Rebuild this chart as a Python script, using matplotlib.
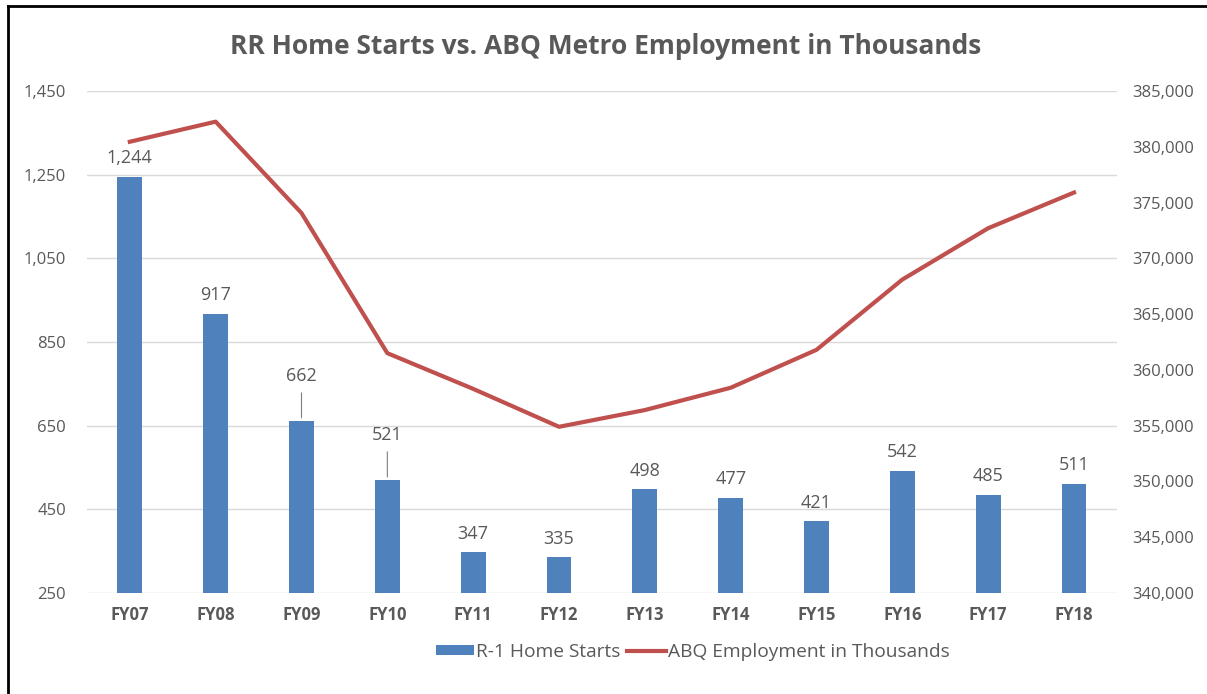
import matplotlib
matplotlib.use("Agg")
import matplotlib.pyplot as plt
from matplotlib.lines import Line2D
from matplotlib.ticker import FuncFormatter

years = ["FY07", "FY08", "FY09", "FY10", "FY11", "FY12",
         "FY13", "FY14", "FY15", "FY16", "FY17", "FY18"]
home_starts = [1244, 917, 662, 521, 347, 335, 498, 477, 421, 542, 485, 511]
employment = [380450, 382250, 374060, 361500, 358300, 354900,
              356400, 358400, 361800, 368100, 372700, 375900]

# labels that sit higher with a leader line down to the bar
lifted = {"FY09": 19, "FY10": 19}

bar_color = "#4F81BD"
line_color = "#C0504D"
text_color = "#595959"

plt.rcParams["font.family"] = ["Open Sans", "DejaVu Sans"]

fig = plt.figure(figsize=(12.07, 6.94), dpi=100)
ax = fig.add_axes([0.072, 0.1455, 0.8534, 0.7234])
ax2 = ax.twinx()

x = list(range(len(years)))
bars = ax.bar(x, home_starts, width=0.29, color=bar_color, zorder=2,
              label="R-1 Home Starts")
ax.set_ylim(250, 1450)
ax.set_yticks(range(250, 1451, 200))
ax.yaxis.set_major_formatter(FuncFormatter(lambda v, p: f"{int(v):,}"))
ax.set_xlim(-0.5, len(years) - 0.5)
ax.set_xticks(x)
ax.set_xticklabels(years, fontweight="bold")
ax.grid(axis="y", color="#D9D9D9", linewidth=1, zorder=0)
ax.set_axisbelow(True)

for i, (name, v) in enumerate(zip(years, home_starts)):
    lift = lifted.get(name, 0)
    ax.annotate(f"{v:,}", xy=(i, v), xytext=(0, 7 + lift),
                textcoords="offset points", ha="center", va="bottom",
                fontsize=13, color=text_color)
    if lift:
        ax.annotate("", xy=(i, v), xytext=(0, 3 + lift),
                    textcoords="offset points",
                    arrowprops=dict(arrowstyle="-", color="#7F7F7F", lw=0.8))

ax2.plot(x, employment, color=line_color, linewidth=3, zorder=3,
         label="ABQ Employment in Thousands")
ax2.set_ylim(340000, 385000)
ax2.set_yticks(range(340000, 385001, 5000))
ax2.yaxis.set_major_formatter(FuncFormatter(lambda v, p: f"{int(v):,}"))

for a in (ax, ax2):
    for s in a.spines.values():
        s.set_visible(False)
    a.tick_params(length=0, colors=text_color, labelsize=12)
ax.tick_params(axis="y", pad=15)
ax2.tick_params(axis="y", pad=11)
ax.tick_params(axis="x", pad=9)

fig.suptitle("RR Home Starts vs. ABQ Metro Employment in Thousands",
             x=0.502, y=0.952, fontsize=19, fontweight="bold", color=text_color)

handles = [bars, ax2.get_lines()[0]]
fig.legend(handles, [h.get_label() for h in handles], loc="center",
           bbox_to_anchor=(0.574, 0.061), ncol=2, frameon=False,
           fontsize=13.8, labelcolor=text_color, handlelength=2.0,
           handleheight=0.45, columnspacing=0.35, handletextpad=0.12)

# frame edges along the left and top
fig.add_artist(Line2D([0.0065, 0.0065], [0, 0.992], color="black", lw=2,
                      transform=fig.transFigure))
fig.add_artist(Line2D([0.0065, 1.0], [0.992, 0.992], color="black", lw=2,
                      transform=fig.transFigure))

fig.savefig("out.png", dpi=100, facecolor="white")
